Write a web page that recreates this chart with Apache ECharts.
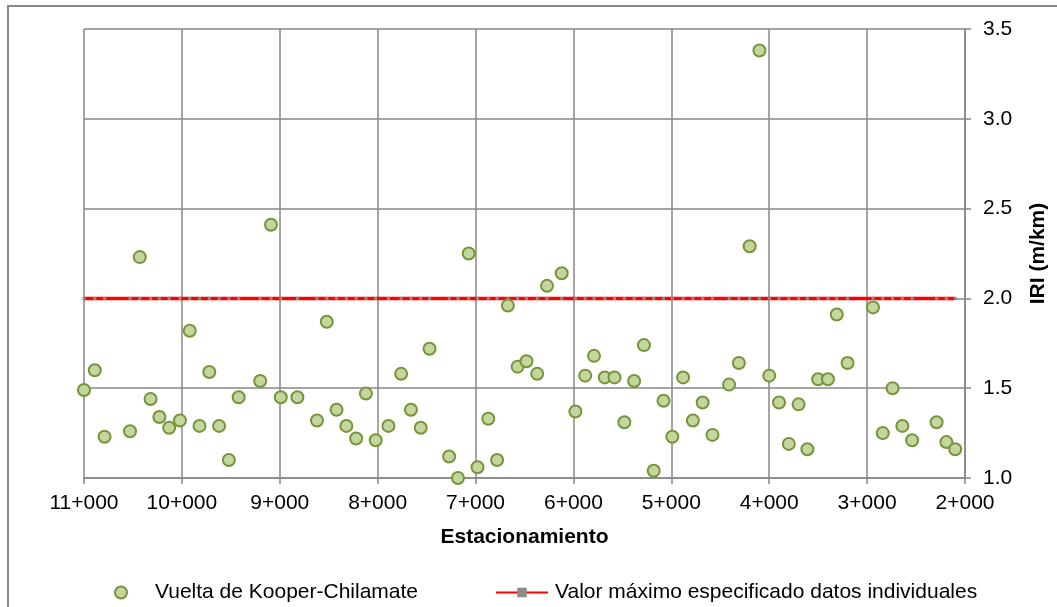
<!DOCTYPE html>
<html>
<head>
<meta charset="utf-8">
<script src="https://cdn.jsdelivr.net/npm/echarts@6/dist/echarts.min.js"></script>
<style>
  html, body { margin: 0; padding: 0; background: #fff; }
  #chart { width: 1057px; height: 607px; }
</style>
</head>
<body>
<div id="chart"></div>
<script>
// Estacionamiento (m) de cada lectura
const stations = [
  11000, 10890, 10790, 10530, 10430, 10320, 10230, 10130, 10020, 9920,
  9820, 9720, 9620, 9520, 9420, 9200, 9090, 8990, 8820, 8620,
  8520, 8420, 8320, 8220, 8120, 8020, 7890, 7760, 7660, 7560,
  7470, 7270, 7180, 7070, 6980, 6870, 6780, 6670, 6570, 6480,
  6370, 6270, 6120, 5980, 5880, 5790, 5680, 5580, 5480, 5380,
  5280, 5180, 5080, 4990, 4880, 4780, 4680, 4580, 4410, 4310,
  4200, 4100, 4000, 3900, 3800, 3700, 3610, 3500, 3400, 3310,
  3200, 2940, 2840, 2740, 2640, 2540, 2290, 2190, 2100
];
// IRI medido (m/km)
const iriValues = [
  1.49, 1.60, 1.23, 1.26, 2.23, 1.44, 1.34, 1.28, 1.32, 1.82,
  1.29, 1.59, 1.29, 1.10, 1.45, 1.54, 2.41, 1.45, 1.45, 1.32,
  1.87, 1.38, 1.29, 1.22, 1.47, 1.21, 1.29, 1.58, 1.38, 1.28,
  1.72, 1.12, 1.00, 2.25, 1.06, 1.33, 1.10, 1.96, 1.62, 1.65,
  1.58, 2.07, 2.14, 1.37, 1.57, 1.68, 1.56, 1.56, 1.31, 1.54,
  1.74, 1.04, 1.43, 1.23, 1.56, 1.32, 1.42, 1.24, 1.52, 1.64,
  2.29, 3.38, 1.57, 1.42, 1.19, 1.41, 1.16, 1.55, 1.55, 1.91,
  1.64, 1.95, 1.25, 1.50, 1.29, 1.21, 1.31, 1.20, 1.16
];
// Valor máximo especificado para datos individuales (m/km)
const maxSpecified = 2.0;

const seriesNames = ['Vuelta de Kooper-Chilamate', 'Valor máximo especificado datos individuales'];
const xAxisTitle = 'Estacionamiento';
const yAxisTitle = 'IRI (m/km)';

const FONT = '"Liberation Sans", Arial, sans-serif';
const GRID_COLOR = '#878787';

const scatterData = stations.map((s, i) => [s, iriValues[i]]);
const limitData = stations.map(s => [s, maxSpecified]);

const chart = echarts.init(document.getElementById('chart'), null, { renderer: 'canvas' });

chart.setOption({
  animation: false,
  backgroundColor: '#ffffff',
  textStyle: { fontFamily: FONT, color: '#000' },
  graphic: [{
    type: 'rect',
    z: -10,
    shape: { x: 8, y: 6, width: 1200, height: 800 },
    style: { fill: 'none', stroke: GRID_COLOR, lineWidth: 2 }
  }],
  grid: { left: 84, right: 86, top: 29, bottom: 129, containLabel: false },
  legend: [{
    data: [seriesNames[0]],
    left: 109, top: 577,
    icon: 'circle',
    itemWidth: 12, itemHeight: 12,
    textStyle: { fontFamily: FONT, fontSize: 21, color: '#000', padding: [0, 0, 0, 23] }
  }, {
    data: [seriesNames[1]],
    left: 490, top: 577,
    itemWidth: 52, itemHeight: 12,
    textStyle: { fontFamily: FONT, fontSize: 21, color: '#000', padding: [0, 0, 0, 2] }
  }],
  xAxis: {
    type: 'value',
    min: 2000, max: 11000, interval: 1000,
    inverse: true,
    name: xAxisTitle,
    nameLocation: 'middle',
    nameGap: 49,
    nameTextStyle: { fontFamily: FONT, fontSize: 21, fontWeight: 'bold', color: '#000' },
    axisLine: { show: true, lineStyle: { color: GRID_COLOR, width: 1.5 } },
    axisTick: { show: true, length: 6, lineStyle: { color: GRID_COLOR, width: 1.5 } },
    axisLabel: {
      margin: 15,
      fontFamily: FONT, fontSize: 21, color: '#000',
      formatter: v => Math.round(v / 1000) + '+000'
    },
    splitLine: { show: true, lineStyle: { color: GRID_COLOR, width: 1.5 } }
  },
  yAxis: {
    type: 'value',
    position: 'right',
    min: 1.0, max: 3.5, interval: 0.5,
    name: yAxisTitle,
    nameLocation: 'middle',
    nameGap: 63,
    nameTextStyle: { fontFamily: FONT, fontSize: 21, fontWeight: 'bold', color: '#000' },
    axisLine: { show: true, lineStyle: { color: GRID_COLOR, width: 1.5 } },
    axisTick: { show: true, length: 6, lineStyle: { color: GRID_COLOR, width: 1.5 } },
    axisLabel: {
      margin: 18,
      fontFamily: FONT, fontSize: 21, color: '#000',
      formatter: v => v.toFixed(1)
    },
    splitLine: { show: true, lineStyle: { color: GRID_COLOR, width: 1.5 } }
  },
  series: [{
    name: seriesNames[0],
    type: 'scatter',
    data: scatterData,
    symbol: 'circle',
    symbolSize: 12,
    clip: false,
    itemStyle: { color: '#c3d69b', borderColor: '#77933c', borderWidth: 2, opacity: 1 },
    z: 3
  }, {
    name: seriesNames[1],
    type: 'line',
    data: limitData,
    symbol: 'rect',
    symbolSize: 3,
    showSymbol: true,
    itemStyle: { color: '#8c8c8c', borderWidth: 0 },
    lineStyle: { color: '#ff0000', width: 3.5 },
    z: 2
  }]
});
</script>
</body>
</html>
